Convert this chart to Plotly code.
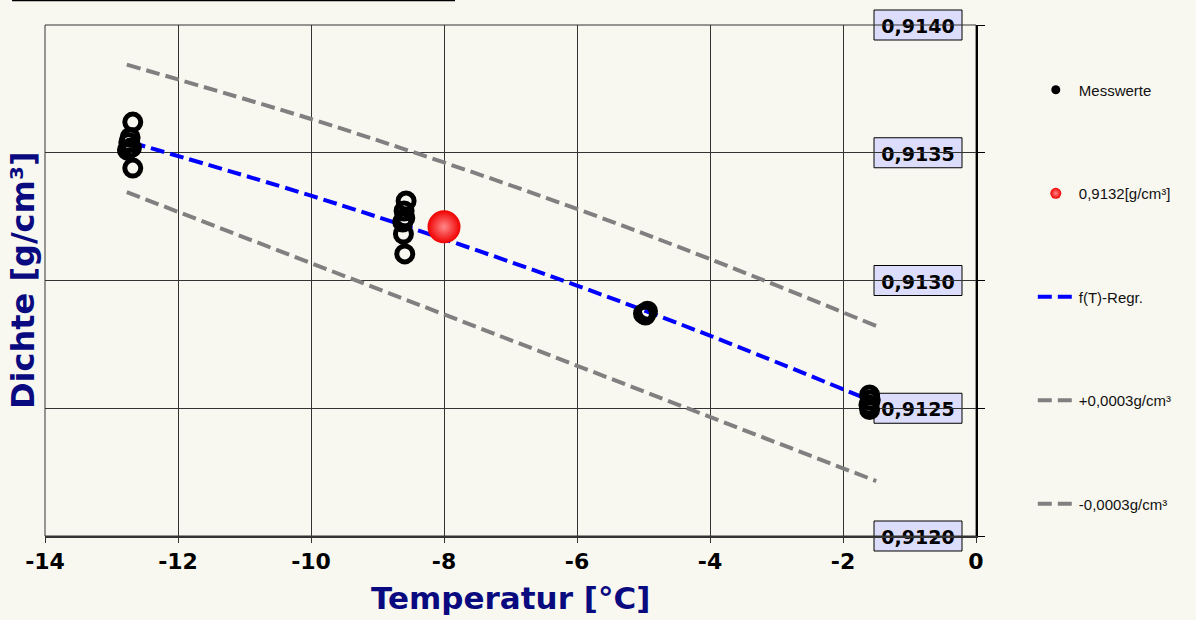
import plotly.graph_objects as go

# ---------------- data ----------------
meas_T = [-12.68, -12.72, -12.74, -12.70, -12.76, -12.68,
          -8.57, -8.60, -8.59, -8.62, -8.61, -8.59,
          -5.00, -4.97, -4.94,
          -1.60, -1.59, -1.61, -1.60]
meas_rho = [0.91362, 0.91356, 0.91354, 0.91352, 0.91351, 0.91344,
            0.913311, 0.913272, 0.913245, 0.913229, 0.913182, 0.913104,
            0.912870, 0.912865, 0.912880,
            0.912552, 0.912532, 0.912513, 0.912495]

point_T = [-8.0]
point_rho = [0.91321]

reg_T = [-12.7, -10.0, -8.0, -6.0, -4.0, -1.6]
reg_rho = [0.913540, 0.913332, 0.913162, 0.912980, 0.912784, 0.912532]

upper_T = [-12.77, -10.0, -8.0, -6.0, -4.0, -1.50]
upper_rho = [0.913845, 0.913632, 0.913462, 0.913280, 0.913084, 0.912822]

lower_T = [-12.77, -1.50]
lower_rho = [0.913346, 0.912215]

x_range = [-14, 0]
y_range = [0.9120, 0.9140]
x_tick_vals = [-14, -12, -10, -8, -6, -4, -2, 0]
x_tick_text = ["-14", "-12", "-10", "-8", "-6", "-4", "-2", "0"]
y_tick_vals = [0.9120, 0.9125, 0.9130, 0.9135, 0.9140]
y_tick_text = ["0,9120", "0,9125", "0,9130", "0,9135", "0,9140"]

legend_names = ["Messwerte", "0,9132[g/cm³]", "f(T)-Regr.", "+0,0003g/cm³", "-0,0003g/cm³"]

BG = "#F9F8F0"
NAVY = "#0A0A80"
PLOT_H = 620 - 25 - 84
PLOT_W = 1196 - 45 - 220

fig = go.Figure()

dash = "14px,6px"
fig.add_trace(go.Scatter(x=upper_T, y=upper_rho, mode="lines", name=legend_names[3],
                         line=dict(color="#808080", width=4, dash=dash, shape="spline"),
                         legendgroup="g4", legendrank=4))
fig.add_trace(go.Scatter(x=lower_T, y=lower_rho, mode="lines", name=legend_names[4],
                         line=dict(color="#808080", width=4, dash=dash),
                         legendgroup="g5", legendrank=5))
fig.add_trace(go.Scatter(x=reg_T, y=reg_rho, mode="lines", name=legend_names[2],
                         line=dict(color="#0000FF", width=4, dash=dash, shape="spline"),
                         legendgroup="g3", legendrank=3))
fig.add_trace(go.Scatter(x=meas_T, y=meas_rho, mode="markers", showlegend=False,
                         marker=dict(symbol="circle-open", size=16, color="black",
                                     line=dict(width=5, color="black"))))
fig.add_trace(go.Scatter(x=point_T, y=point_rho, mode="markers", showlegend=False,
                         marker=dict(symbol="circle", size=33, color="#F00000",
                                     gradient=dict(type="radial", color="#FF8888"),
                                     line=dict(width=0))))
# legend-only entries
fig.add_trace(go.Scatter(x=[None], y=[None], mode="markers", name=legend_names[0],
                         marker=dict(symbol="circle", size=9, color="black"),
                         legendgroup="g1", legendrank=1))
fig.add_trace(go.Scatter(x=[None], y=[None], mode="markers", name=legend_names[1],
                         marker=dict(symbol="circle", size=11, color="#F00000",
                                     gradient=dict(type="radial", color="#FF8888"),
                                     line=dict(width=0)),
                         legendgroup="g2", legendrank=2))

# y tick labels in boxes (drawn beneath the data)
half = 15 / PLOT_H
for v, t in zip(y_tick_vals, y_tick_text):
    yp = (v - y_range[0]) / (y_range[1] - y_range[0])
    fig.add_shape(type="rect", xref="paper", yref="paper",
                  x0=(874 - 45) / PLOT_W, x1=(962 - 45) / PLOT_W,
                  y0=yp - half, y1=yp + half,
                  fillcolor="#DCDCFB", line=dict(color="black", width=1), layer="between",
                  label=dict(text=t, textposition="middle center",
                             font=dict(family="DejaVu Sans", size=19, color="black", weight="bold")))

# axis titles
fig.add_annotation(x=-0.0236, xref="paper", y=0.501, yref="paper", text="Dichte [g/cm³]",
                   textangle=-90, showarrow=False, xanchor="center", yanchor="middle",
                   font=dict(family="DejaVu Sans", size=32, color=NAVY, weight="bold"))
fig.add_annotation(x=0.5, xref="paper", y=-0.121, yref="paper", text="Temperatur [°C]",
                   showarrow=False, xanchor="center", yanchor="middle",
                   font=dict(family="DejaVu Sans", size=31, color=NAVY, weight="bold"))

# frame and title underline
fig.add_shape(type="rect", xref="paper", yref="paper", x0=0, x1=1, y0=0, y1=1,
              line=dict(color="#333333", width=1), layer="below")
fig.add_shape(type="line", xref="paper", yref="paper", x0=-0.0354, x1=0.4404,
              y0=1.048, y1=1.048, line=dict(color="black", width=1.5))

fig.update_layout(
    width=1196, height=620,
    margin=dict(l=45, r=220, t=25, b=84, autoexpand=False),
    paper_bgcolor=BG, plot_bgcolor=BG,
    showlegend=True,
    legend=dict(x=1.061, xanchor="left", y=0.905, yanchor="top",
                font=dict(family="Liberation Sans", size=15, color="#111111"),
                tracegroupgap=81, itemwidth=36, bgcolor="rgba(0,0,0,0)"),
    xaxis=dict(range=x_range, tickvals=x_tick_vals, ticktext=x_tick_text,
               showgrid=True, gridcolor="#333333", gridwidth=1, zeroline=False,
               showline=True, linecolor="#333333", linewidth=2,
               ticks="outside", ticklen=5, tickcolor="#333333",
               tickfont=dict(family="DejaVu Sans", size=22, color="black", weight="bold")),
    yaxis=dict(range=y_range, tickvals=y_tick_vals, showticklabels=False,
               side="right", showgrid=True, gridcolor="#333333", gridwidth=1,
               zeroline=False, showline=True, linecolor="black", linewidth=1.5,
               ticks="outside", ticklen=7, tickcolor="black"),
)

fig.write_html("out.html")
